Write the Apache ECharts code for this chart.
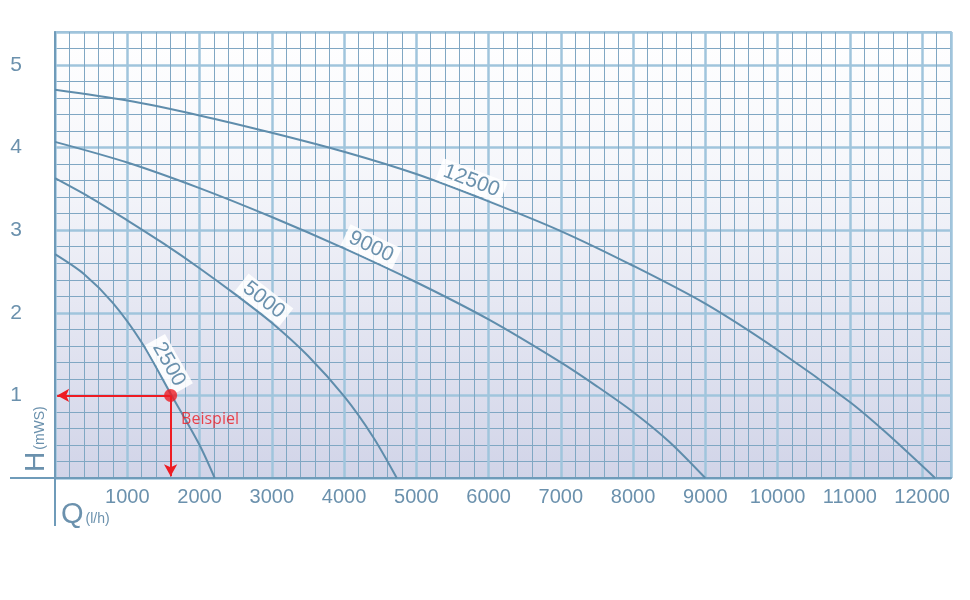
<!DOCTYPE html>
<html>
<head>
<meta charset="utf-8">
<script src="https://cdn.jsdelivr.net/npm/echarts@6/dist/echarts.min.js"></script>
<style>
  html, body { margin: 0; padding: 0; background: #ffffff; }
  #chart { width: 970px; height: 600px; }
</style>
</head>
<body>
<div id="chart"></div>
<script>
// pump curves: flow Q (l/h) against head H (mWS)
var curveNames = ['12500', '9000', '5000', '2500'];

var flow12500 = [0, 1000, 2000, 3000, 4000, 5000, 6000, 7000, 8000, 9000, 10000, 11000, 11500, 12180];
var head12500 = [4.70, 4.57, 4.39, 4.18, 3.95, 3.68, 3.35, 2.99, 2.57, 2.11, 1.55, 0.92, 0.55, 0];

var flow9000 = [0, 1000, 2000, 3000, 4000, 5000, 6000, 7000, 7500, 8000, 8500, 9000];
var head9000 = [4.07, 3.82, 3.51, 3.16, 2.78, 2.37, 1.92, 1.40, 1.11, 0.80, 0.44, 0];

var flow5000 = [0, 500, 1000, 1500, 2000, 2500, 3000, 3500, 4000, 4400, 4730];
var head5000 = [3.63, 3.39, 3.12, 2.84, 2.54, 2.22, 1.88, 1.48, 0.99, 0.50, 0];

var flow2500 = [0, 400, 800, 1200, 1600, 2000, 2210];
var head2500 = [2.71, 2.47, 2.12, 1.64, 1.02, 0.40, 0];

// where the curve name sits along each curve (Q value)
var labelFlow = [5700, 4300, 2780, 1420];

// example point
var exampleFlow = 1600;
var exampleHead = 1.0;

var flowMax = 12400;
var headMax = 5.4;

var curveFlows = [flow12500, flow9000, flow5000, flow2500];
var curveHeads = [head12500, head9000, head5000, head2500];

var lineColor = '#5f8dac';
var textColor = '#6b91ad';
var minorColor = '#80a7c3';
var majorColor = '#a0c5dc';
var red = '#ee1c23';
var font = 'Liberation Sans, Arial, sans-serif';

function pairs(xs, ys) {
    var out = [];
    xs.forEach(function(x, i) { out.push([x, ys[i]]); });
    return out;
}

function interp(xs, ys, x) {
    for (var i = 0; i < xs.length - 1; i++) {
        if (x >= xs[i] && x <= xs[i + 1]) {
            var t = (x - xs[i]) / (xs[i + 1] - xs[i]);
            return ys[i] + t * (ys[i + 1] - ys[i]);
        }
    }
    return ys[ys.length - 1];
}

var chart = echarts.init(document.getElementById('chart'));

var series = curveNames.map(function(name, i) {
    return {
        name: name,
        type: 'line',
        xAxisIndex: 1,
        yAxisIndex: 1,
        smooth: 0.3,
        symbol: 'none',
        lineStyle: { color: lineColor, width: 2 },
        data: pairs(curveFlows[i], curveHeads[i]),
        z: 3
    };
});

series.push({
    name: 'Beispiel',
    type: 'scatter',
    xAxisIndex: 1,
    yAxisIndex: 1,
    symbolSize: 13,
    itemStyle: { color: red },
    data: [[exampleFlow, exampleHead]],
    label: {
        show: true,
        position: 'right',
        offset: [-1, 24],
        formatter: 'Beispiel',
        color: red,
        fontFamily: 'Open Sans',
        fontSize: 16
    },
    markLine: {
        silent: true,
        symbol: ['none', 'arrow'],
        symbolSize: [10, 12],
        lineStyle: { color: red, width: 2, type: 'solid' },
        label: { show: false },
        data: [
            [{ coord: [exampleFlow, exampleHead] }, { coord: [30, exampleHead] }],
            [{ coord: [exampleFlow, exampleHead] }, { coord: [exampleFlow, 0.02] }]
        ]
    },
    z: 5
});

var option = {
    animation: false,
    backgroundColor: '#ffffff',
    textStyle: { fontFamily: font },
    grid: {
        left: 55, right: 19, top: 32, bottom: 122,
        show: true,
        borderColor: '#7ea6c2',
        borderWidth: 1.5,
        backgroundColor: new echarts.graphic.LinearGradient(0, 0, 0, 1, [
            { offset: 0, color: '#ffffff' },
            { offset: 0.3, color: '#f6f7fb' },
            { offset: 1, color: '#d1d4e8' }
        ])
    },
    xAxis: [{
        type: 'value', min: 0, max: flowMax, interval: 200,
        axisLine: { show: false }, axisTick: { show: false }, axisLabel: { show: false },
        splitLine: { show: true, lineStyle: { color: minorColor, width: 1 } }
    }, {
        type: 'value', min: 0, max: flowMax, interval: 1000, position: 'bottom',
        axisLine: { show: true, onZero: false, lineStyle: { color: '#6f9bb9', width: 2 } },
        axisTick: { show: false },
        axisLabel: {
            color: textColor, fontSize: 20, margin: 9, fontFamily: font,
            formatter: function(v) { return (v === 0 || v > 12000) ? '' : String(v); }
        },
        splitLine: { show: true, lineStyle: { color: majorColor, width: 2.5 } }
    }],
    yAxis: [{
        type: 'value', min: 0, max: headMax, interval: 0.2,
        axisLine: { show: false }, axisTick: { show: false }, axisLabel: { show: false },
        splitLine: { show: true, lineStyle: { color: minorColor, width: 1 } }
    }, {
        type: 'value', min: 0, max: headMax, interval: 1, position: 'left',
        axisLine: { show: true, onZero: false, lineStyle: { color: '#6f9bb9', width: 2 } },
        axisTick: { show: false },
        axisLabel: {
            color: textColor, fontSize: 21, margin: 33, fontFamily: font,
            formatter: function(v) { return (v === 0 || v > 5) ? '' : String(v); }
        },
        splitLine: { show: true, lineStyle: { color: majorColor, width: 2.5 } }
    }],
    series: series
};

chart.setOption(option);

// curve names, placed along each curve and turned to follow it
var finder = { xAxisIndex: 1, yAxisIndex: 1 };
var newSeries = curveNames.map(function(name, i) {
    var q = labelFlow[i];
    var xs = curveFlows[i], ys = curveHeads[i];
    var p1 = chart.convertToPixel(finder, [q - 150, interp(xs, ys, q - 150)]);
    var p2 = chart.convertToPixel(finder, [q + 150, interp(xs, ys, q + 150)]);
    var p = chart.convertToPixel(finder, [q, interp(xs, ys, q)]);
    var a = Math.atan2(p2[1] - p1[1], p2[0] - p1[0]);
    var d = 13;
    var c = chart.convertFromPixel(finder, [p[0] + Math.sin(a) * d, p[1] - Math.cos(a) * d]);
    return {
        markPoint: {
            symbol: 'circle',
            symbolSize: 1,
            itemStyle: { color: 'rgba(0,0,0,0)' },
            label: {
                show: true,
                position: 'inside',
                formatter: name,
                rotate: -a * 180 / Math.PI,
                color: textColor,
                fontFamily: font,
                fontSize: 21,
                backgroundColor: 'rgba(255,255,255,0.88)',
                padding: [1, 5]
            },
            data: [{ coord: c }]
        }
    };
});

// axis lines run on past the plot, and the axis titles
var o = chart.convertToPixel(finder, [0, 0]);
chart.setOption({
    series: newSeries,
    graphic: [
        { type: 'line', shape: { x1: o[0] - 45, y1: o[1], x2: o[0], y2: o[1] },
          style: { stroke: '#6f9bb9', lineWidth: 2 }, z: 10 },
        { type: 'line', shape: { x1: o[0], y1: o[1], x2: o[0], y2: o[1] + 48 },
          style: { stroke: '#6f9bb9', lineWidth: 2 }, z: 10 },
        {
            type: 'text', x: o[0] - 19, y: o[1] - 6, rotation: Math.PI / 2, z: 10,
            style: {
                text: '{b|H}{s|(mWS)}',
                align: 'left', verticalAlign: 'middle',
                rich: {
                    b: { fontSize: 28, fill: textColor, fontFamily: 'Liberation Sans' },
                    s: { fontSize: 14, fill: textColor, fontFamily: 'Liberation Sans', padding: [8, 0, 0, 2] }
                }
            }
        },
        {
            type: 'text', x: o[0] + 6, y: o[1] + 37, z: 10,
            style: {
                text: '{b|Q}{s|(l/h)}',
                align: 'left', verticalAlign: 'middle',
                rich: {
                    b: { fontSize: 29, fill: textColor, fontFamily: 'Liberation Sans' },
                    s: { fontSize: 14, fill: textColor, fontFamily: 'Liberation Sans', padding: [8, 0, 0, 2] }
                }
            }
        }
    ]
});
</script>
</body>
</html>
